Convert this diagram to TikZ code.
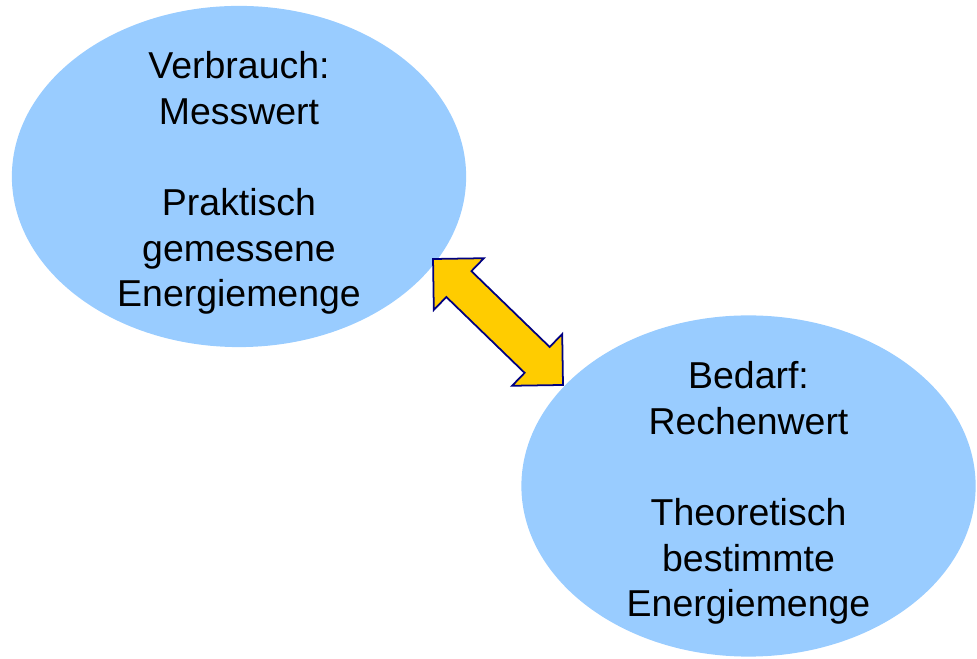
\documentclass[tikz,border=0pt]{standalone}
\usepackage{fontspec}
\setmainfont{Liberation Sans}
\usepackage{tikz}
\usetikzlibrary{shapes.geometric}
\usetikzlibrary{calc}
\definecolor{bubble}{HTML}{99CCFF}
\definecolor{gold}{HTML}{FFCC00}
\definecolor{navy}{HTML}{000080}

\begin{document}
\begin{tikzpicture}[x=0.01cm,y=0.01cm,
    blob/.style={ellipse, fill=bubble, inner sep=0pt, outer sep=0pt, minimum width=4.54cm, minimum height=3.41cm},
    label/.style={align=center, inner sep=0pt, font=\fontsize{10.65}{13}\selectfont}]
            \useasboundingbox (0,0) rectangle (977,-659);

            \node[blob] (verbrauch) at (239,-176.5){};
            \node[blob] (bedarf) at (748.5,-486){};

            \node[label] (verbrauchtext) at (239,-183){Verbrauch:\\Messwert\\~\\Praktisch\\gemessene\\Energiemenge};
            \node[label] (bedarftext) at (748.5,-493){Bedarf:\\Rechenwert\\~\\Theoretisch\\bestimmte\\Energiemenge};

            \coordinate (tipa) at (433,-259);
            \coordinate (tipb) at (563,-385);
            \begin{scope}[shift={($(tipa)!0.5!(tipb)$)},rotate=-44.1]
            \draw[fill=gold, draw=navy, line width=0.5pt, line join=miter]
                (-90.5,0) -- (-54.5,36) -- (-54.5,18) -- (54.5,18) -- (54.5,36) -- (90.5,0)
                -- (54.5,-36) -- (54.5,-18) -- (-54.5,-18) -- (-54.5,-36) -- cycle;
            \end{scope}
        \end{tikzpicture}
\end{document}
